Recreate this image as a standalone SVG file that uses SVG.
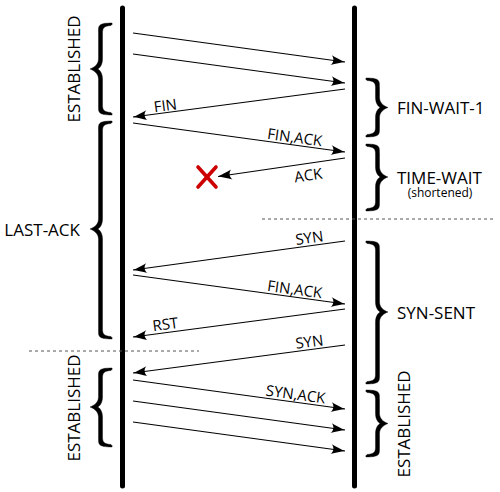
<svg xmlns="http://www.w3.org/2000/svg" width="500" height="492" viewBox="0 0 500 492">
<style>
.life{stroke:#000;stroke-width:5;stroke-linecap:round;fill:none}
.msg{stroke:#000;stroke-width:1.2;fill:none}
.arr{marker-end:url(#ah)}
.dash{stroke:#555;stroke-width:1;stroke-dasharray:3,3;fill:none}
.brace{fill:#000;stroke:#000;stroke-width:0.4}
.state{font-family:"Open Sans","Liberation Sans",sans-serif;font-size:17px;fill:#000}
.lbl{font-family:"Open Sans","Liberation Sans",sans-serif;font-size:15px;fill:#000;text-anchor:middle}
.small{font-family:"Open Sans","Liberation Sans",sans-serif;font-size:12px;fill:#000;text-anchor:middle}
.x{stroke:#cc0000;stroke-width:3.6;stroke-linecap:round;fill:none}
</style>
<defs>
<marker id="ah" markerUnits="userSpaceOnUse" markerWidth="20" markerHeight="14" refX="0" refY="0" viewBox="-15 -7 20 14" orient="auto" overflow="visible">
<path d="M0,0 C-4,-1.2 -9,-3 -14,-5 C-11,-2 -11,2 -14,5 C-9,3 -4,1.2 0,0 Z" fill="#000"/>
</marker>
</defs>
<g id="lifelines">
<line class="life" x1="122.5" y1="8" x2="122.5" y2="486"/>
<line class="life" x1="354.5" y1="8" x2="354.5" y2="486"/>
</g>
<g id="separators">
<line class="dash" x1="262" y1="219" x2="496" y2="219"/>
<line class="dash" x1="29" y1="351" x2="199" y2="351"/>
</g>
<g id="connectors">
<line class="msg arr" x1="133" y1="33" x2="345" y2="62"/>
<line class="msg arr" x1="133" y1="54" x2="345" y2="83"/>
<line class="msg arr" x1="345" y1="89" x2="133" y2="117"/>
<line class="msg arr" x1="133" y1="123" x2="345" y2="152"/>
<line class="msg arr" x1="345" y1="158" x2="218" y2="176.5"/>
<line class="msg arr" x1="345" y1="241" x2="133" y2="270"/>
<line class="msg arr" x1="133" y1="275" x2="345" y2="304"/>
<line class="msg arr" x1="345" y1="309" x2="133" y2="337"/>
<line class="msg arr" x1="345" y1="345" x2="133" y2="373"/>
<line class="msg arr" x1="133" y1="380" x2="345" y2="409"/>
<line class="msg arr" x1="133" y1="401" x2="345" y2="430"/>
<line class="msg arr" x1="133" y1="422" x2="345" y2="451"/>
</g>
<g id="message-labels">
<text class="lbl" transform="translate(166,110.8) rotate(-7.5)">FIN</text>
<text class="lbl" transform="translate(294,142.6) rotate(7.8)">FIN,ACK</text>
<text class="lbl" transform="translate(309,180.5) rotate(-7.8)">ACK</text>
<text class="lbl" transform="translate(310,243) rotate(-7.8)">SYN</text>
<text class="lbl" transform="translate(294,294.6) rotate(7.8)">FIN,ACK</text>
<text class="lbl" transform="translate(166,329.5) rotate(-7.5)">RST</text>
<text class="lbl" transform="translate(310,347) rotate(-7.5)">SYN</text>
<text class="lbl" transform="translate(295,399.5) rotate(7.8)">SYN,ACK</text>
</g>
<g id="lost-ack">
<line class="x" x1="198" y1="167" x2="216" y2="187"/>
<line class="x" x1="216" y1="167" x2="198" y2="187"/>
</g>
<g id="state-established-top">
<path class="brace" d="M112,23 C97.5,23 98.5,26 98.5,33 L98.5,59 C98.5,65 93,68 90,69 C93,70 98.5,73 98.5,79 L98.5,105 C98.5,112 97.5,115 112,115 Q113,114 111,112.5 C104,112 102.5,110 102.5,105 L102.5,79 C102.5,73 99.5,69.5 97.5,69 C99.5,68.5 102.5,65 102.5,59 L102.5,33 C102.5,28 104,26 111,25.5 Q113,24 112,23 Z"/>
<text class="state" text-anchor="middle" transform="translate(80,69) rotate(-90)">ESTABLISHED</text>
</g>
<g id="state-last-ack">
<path class="brace" d="M112,121 C97.5,121 98.5,124 98.5,131 L98.5,219 C98.5,225 93,228 90,229 C93,230 98.5,233 98.5,239 L98.5,329 C98.5,336 97.5,339 112,339 Q113,338 111,336.5 C104,336 102.5,334 102.5,329 L102.5,239 C102.5,233 99.5,229.5 97.5,229 C99.5,228.5 102.5,225 102.5,219 L102.5,131 C102.5,126 104,124 111,123.5 Q113,122 112,121 Z"/>
<text class="state" text-anchor="end" x="80" y="236">LAST-ACK</text>
</g>
<g id="state-established-bottom">
<path class="brace" d="M112,368 C97.5,368 98.5,371 98.5,378 L98.5,397 C98.5,403 93,406 90,407 C93,408 98.5,411 98.5,417 L98.5,437 C98.5,444 97.5,447 112,447 Q113,446 111,444.5 C104,444 102.5,442 102.5,437 L102.5,417 C102.5,411 99.5,407.5 97.5,407 C99.5,406.5 102.5,403 102.5,397 L102.5,378 C102.5,373 104,371 111,370.5 Q113,369 112,368 Z"/>
<text class="state" text-anchor="middle" transform="translate(80,408) rotate(-90)">ESTABLISHED</text>
</g>
<g id="state-fin-wait-1">
<path class="brace" transform="matrix(-1 0 0 1 478 0)" d="M112,78 C97.5,78 98.5,81 98.5,88 L98.5,97.5 C98.5,103.5 93,106.5 90,107.5 C93,108.5 98.5,111.5 98.5,117.5 L98.5,127 C98.5,134 97.5,137 112,137 Q113,136 111,134.5 C104,134 102.5,132 102.5,127 L102.5,117.5 C102.5,111.5 99.5,108 97.5,107.5 C99.5,107 102.5,103.5 102.5,97.5 L102.5,88 C102.5,83 104,81 111,80.5 Q113,79 112,78 Z"/>
<text class="state" x="397" y="114">FIN-WAIT-1</text>
</g>
<g id="state-time-wait">
<path class="brace" transform="matrix(-1 0 0 1 478 0)" d="M112,144 C97.5,144 98.5,147 98.5,154 L98.5,167 C98.5,173 93,176 90,177 C93,178 98.5,181 98.5,187 L98.5,201 C98.5,208 97.5,211 112,211 Q113,210 111,208.5 C104,208 102.5,206 102.5,201 L102.5,187 C102.5,181 99.5,177.5 97.5,177 C99.5,176.5 102.5,173 102.5,167 L102.5,154 C102.5,149 104,147 111,146.5 Q113,145 112,144 Z"/>
<text class="state" x="397" y="183.5">TIME-WAIT</text>
<text class="small" x="440" y="197">(shortened)</text>
</g>
<g id="state-syn-sent">
<path class="brace" transform="matrix(-1 0 0 1 478 0)" d="M112,241 C97.5,241 98.5,244 98.5,251 L98.5,302 C98.5,308 93,311 90,312 C93,313 98.5,316 98.5,322 L98.5,374 C98.5,381 97.5,384 112,384 Q113,383 111,381.5 C104,381 102.5,379 102.5,374 L102.5,322 C102.5,316 99.5,312.5 97.5,312 C99.5,311.5 102.5,308 102.5,302 L102.5,251 C102.5,246 104,244 111,243.5 Q113,242 112,241 Z"/>
<text class="state" x="397" y="319">SYN-SENT</text>
</g>
<g id="state-established-right">
<path class="brace" transform="matrix(-1 0 0 1 478 0)" d="M112,390 C97.5,390 98.5,393 98.5,400 L98.5,413.5 C98.5,419.5 93,422.5 90,423.5 C93,424.5 98.5,427.5 98.5,433.5 L98.5,447 C98.5,454 97.5,457 112,457 Q113,456 111,454.5 C104,454 102.5,452 102.5,447 L102.5,433.5 C102.5,427.5 99.5,424 97.5,423.5 C99.5,423 102.5,419.5 102.5,413.5 L102.5,400 C102.5,395 104,393 111,392.5 Q113,391 112,390 Z"/>
<text class="state" text-anchor="middle" transform="translate(409.5,424) rotate(-90)">ESTABLISHED</text>
</g>
</svg>
